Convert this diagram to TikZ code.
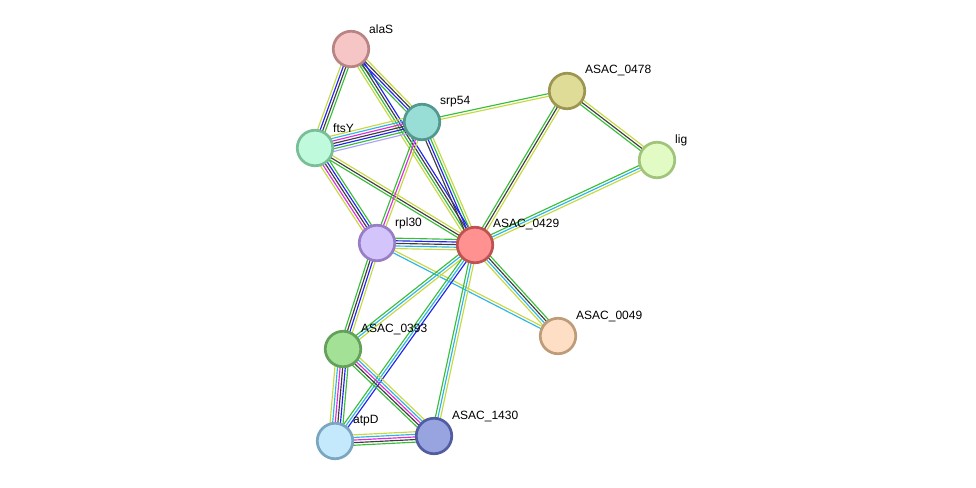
\documentclass[tikz,border=0pt]{standalone}
\usepackage{fontspec}
\setmainfont{Liberation Sans}
\usetikzlibrary{calc,backgrounds}

% Evidenzfarben der Kanten
\definecolor{txt}{RGB}{199,217,66}
\definecolor{grn}{RGB}{58,190,58}
\definecolor{blu}{RGB}{35,35,240}
\definecolor{blk}{RGB}{62,62,62}
\definecolor{mag}{RGB}{222,45,222}
\definecolor{cyn}{RGB}{45,182,228}
\definecolor{hom}{RGB}{172,162,250}

% parallele Linien einer Kante, eine pro Farbe
\def\gap{2.6}
\newcommand{\stredge}[3]{%
  \foreach \col [count=\n] in {#3} {\xdef\nlines{\n}}%
  \foreach \col [count=\i] in {#3} {%
    \pgfmathsetmacro{\off}{(\i-(\nlines+1)/2)*\gap}%
    \draw[edge, \col] ($(#1)!\off pt!90:(#2)$) -- ($(#2)!\off pt!-90:(#1)$);
  }%
}

\begin{document}
\begin{tikzpicture}[
    x=1pt, y=-1pt,
    prot/.style={circle, minimum size=35.5pt, inner sep=0pt, line width=2.7pt},
    lbl/.style={anchor=west, inner sep=0pt, font=\fontsize{12}{14}\selectfont},
    edge/.style={line width=1.15pt}
]
\useasboundingbox (0,0) rectangle (976,487);

% ============================================================
% Proteine
% ============================================================
\node[prot, fill={rgb,255:red,246;green,198;blue,198}, draw={rgb,255:red,186;green,132;blue,132}] (alaS) at (351,49) {};
\node[prot, fill={rgb,255:red,152;green,222;blue,214}, draw={rgb,255:red,82;green,152;blue,142}] (srp54) at (422,122) {};
\node[prot, fill={rgb,255:red,192;green,250;blue,220}, draw={rgb,255:red,122;green,190;blue,152}] (ftsY) at (315,148) {};
\node[prot, fill={rgb,255:red,222;green,220;blue,150}, draw={rgb,255:red,156;green,150;blue,82}] (n0478) at (567,91) {};
\node[prot, fill={rgb,255:red,226;green,250;blue,196}, draw={rgb,255:red,162;green,196;blue,122}] (lig) at (657,160) {};
\node[prot, fill={rgb,255:red,212;green,196;blue,252}, draw={rgb,255:red,152;green,126;blue,196}] (rpl30) at (377,243) {};
\node[prot, fill={rgb,255:red,255;green,145;blue,145}, draw={rgb,255:red,190;green,82;blue,82}] (n0429) at (475,245) {};
\node[prot, fill={rgb,255:red,254;green,222;blue,196}, draw={rgb,255:red,190;green,156;blue,122}] (n0049) at (558,336) {};
\node[prot, fill={rgb,255:red,162;green,225;blue,150}, draw={rgb,255:red,100;green,160;blue,90}] (n0393) at (343,349) {};
\node[prot, fill={rgb,255:red,196;green,232;blue,252}, draw={rgb,255:red,122;green,166;blue,192}] (atpD) at (335,441) {};
\node[prot, fill={rgb,255:red,152;green,164;blue,224}, draw={rgb,255:red,82;green,92;blue,160}] (n1430) at (434,436) {};

% Beschriftungen (rechts oberhalb)
\node[lbl] (alaS-t) at ($(alaS)+(18,-20)$) {alaS};
\node[lbl] (srp54-t) at ($(srp54)+(18,-20)$) {srp54};
\node[lbl] (ftsY-t) at ($(ftsY)+(18,-20)$) {ftsY};
\node[lbl] (n0478-t) at ($(n0478)+(18,-20)$) {ASAC\_0478};
\node[lbl] (lig-t) at ($(lig)+(18,-20)$) {lig};
\node[lbl] (rpl30-t) at ($(rpl30)+(18,-20)$) {rpl30};
\node[lbl] (n0429-t) at ($(n0429)+(18,-20)$) {ASAC\_0429};
\node[lbl] (n0049-t) at ($(n0049)+(18,-20)$) {ASAC\_0049};
\node[lbl] (n0393-t) at ($(n0393)+(18,-20)$) {ASAC\_0393};
\node[lbl] (atpD-t) at ($(atpD)+(18,-20)$) {atpD};
\node[lbl] (n1430-t) at ($(n1430)+(18,-20)$) {ASAC\_1430};

% ============================================================
% Interaktionen (hinter den Knoten)
% ============================================================
\begin{pgfonlayer}{background}
\stredge{alaS}{ftsY}{txt,blu,blk,grn}
\stredge{alaS}{srp54}{grn,blu,blk,txt}
\stredge{alaS}{n0429}{txt,grn,blk,blu}
\stredge{ftsY}{srp54}{hom,grn,blu,blk,mag,cyn,txt}
\stredge{ftsY}{rpl30}{txt,mag,blk,blu,grn}
\stredge{ftsY}{n0429}{grn,blk,txt}
\stredge{srp54}{rpl30}{grn,mag,txt}
\stredge{srp54}{n0429}{blk,blu,grn,txt}
\stredge{srp54}{n0478}{txt,grn}
\stredge{n0478}{lig}{grn,blk,txt}
\stredge{n0478}{n0429}{grn,blk,txt}
\stredge{lig}{n0429}{grn,cyn,txt}
\stredge{rpl30}{n0429}{txt,cyn,blk,blu,grn}
\stredge{rpl30}{n0049}{cyn,txt}
\stredge{rpl30}{n0393}{grn,blk,blu,txt}
\stredge{n0429}{n0049}{txt,cyn,blk,grn}
\stredge{n0429}{n0393}{grn,cyn,txt}
\stredge{n0429}{atpD}{grn,cyn,blu}
\stredge{n0429}{n1430}{grn,cyn,txt}
\stredge{n0393}{atpD}{txt,cyn,mag,blk,blu,grn}
\stredge{n0393}{n1430}{grn,blk,mag,cyn,txt}
\stredge{atpD}{n1430}{grn,blk,mag,cyn,txt}
\end{pgfonlayer}

\end{tikzpicture}
\end{document}
